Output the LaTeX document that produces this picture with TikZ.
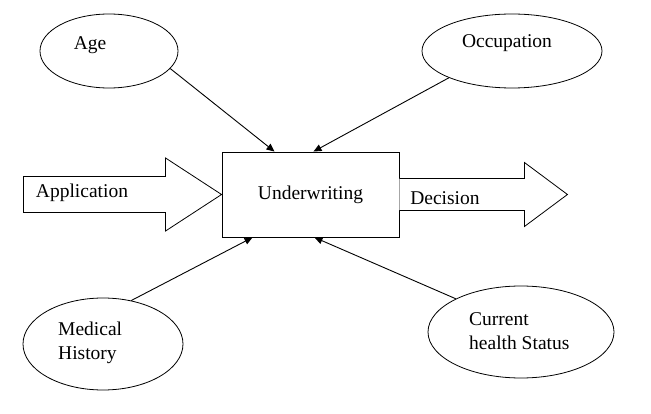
\documentclass[tikz,border=0pt]{standalone}
\usepackage{fontspec}
\setmainfont{Liberation Serif}
\usetikzlibrary{shapes,arrows.meta,positioning}

\begin{document}
\begin{tikzpicture}[
    x=1pt, y=1pt,
    font=\fontsize{19.5}{24}\selectfont,
    box/.style={rectangle, draw, line width=0.9pt, minimum width=177pt, minimum height=85pt},
    factor/.style={ellipse, draw, line width=0.8pt, inner sep=0pt},
    arrow/.style={-{Triangle[length=8pt,width=7pt]}, line width=0.9pt},
    bigarrow/.style={draw, line width=0.8pt, fill=white},
    txt/.style={inner sep=0pt, align=left}
]
\useasboundingbox (0,0) rectangle (651,413);

% Underwriting box
\node[box] (uw) at (310.5,218.5) {Underwriting};

% Factors
\node[factor, minimum width=138pt, minimum height=74pt] (age) at (109,362) {};
\node[factor, minimum width=180pt, minimum height=74pt] (occ) at (512,362) {};
\node[factor, minimum width=160pt, minimum height=92pt] (med) at (103,69) {};
\node[factor, minimum width=186pt, minimum height=92pt] (health) at (521,81) {};

% Factor labels
\node[txt] (agetxt) at (90,368) {Age};
\node[txt] (occtxt) at (507,370) {Occupation};
\node[txt, anchor=west] (medtxt) at (58,70.5) {Medical\\History};
\node[txt, anchor=west] (healthtxt) at (469,82) {Current\\health Status};

% Factor arrows
\draw[arrow] (age.-16) -- ([xshift=-36pt]uw.north);
\draw[arrow] (occ.-157) -- ([xshift=3pt]uw.north);
\draw[arrow] (med.57) -- ([xshift=-58pt]uw.south);
\draw[arrow] (health.153) -- ([xshift=4pt]uw.south);

% Application in
\draw[bigarrow] (uw.west) -- ++(-56,36.5) -- ++(0,-18.5) -- ++(-142,0) -- ++(0,-36) -- ++(142,0) -- ++(0,-18.5) -- cycle;
\node[txt] (apptxt) at (82,220) {Application};

% Decision out
\draw[bigarrow] ([yshift=16pt]uw.east) -- ++(125,0) -- ++(0,16) -- ++(43,-32) -- ++(-43,-32) -- ++(0,16) -- ++(-125,0);
\node[txt] (dectxt) at (445,215) {Decision};

\end{tikzpicture}
\end{document}
